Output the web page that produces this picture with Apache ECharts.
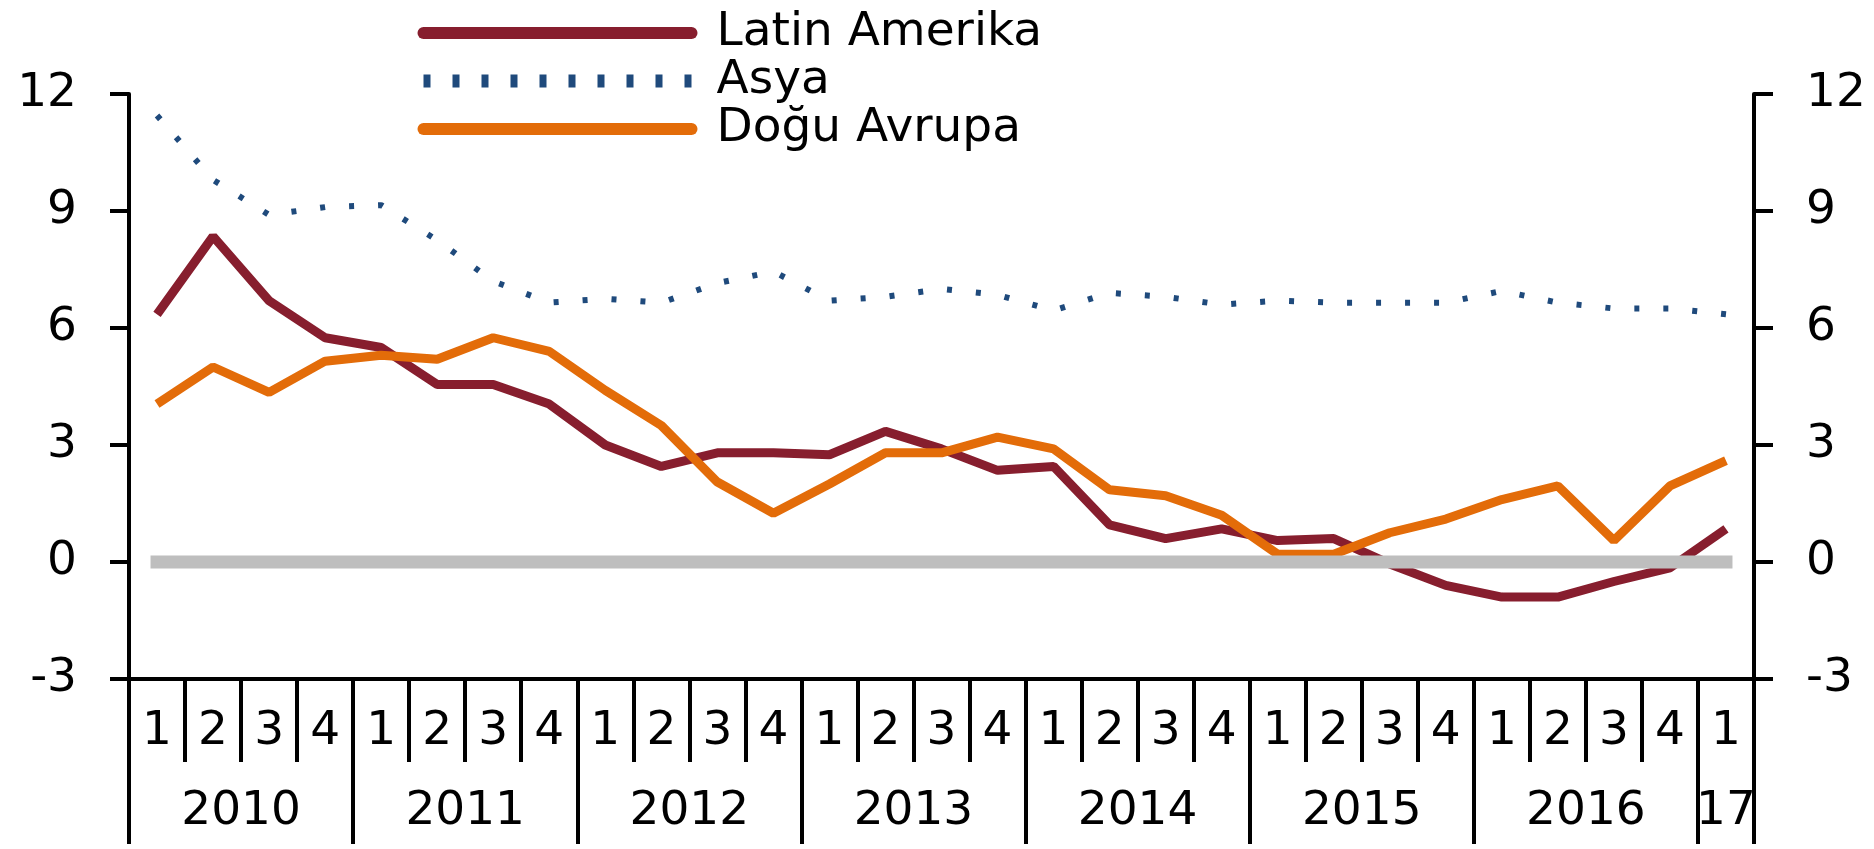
<!DOCTYPE html>
<html>
<head>
<meta charset="utf-8">
<script src="https://cdn.jsdelivr.net/npm/echarts@6/dist/echarts.min.js"></script>
<style>
  html, body { margin: 0; padding: 0; background: #fff; }
  #main { width: 1874px; height: 849px; }
</style>
</head>
<body>
<div id="main"></div>
<script>
// quarters 2010Q1 .. 2017Q1
const quarters = ['1','2','3','4','1','2','3','4','1','2','3','4','1','2','3','4',
                  '1','2','3','4','1','2','3','4','1','2','3','4','1'];
const years = ['2010', '2011', '2012', '2013', '2014', '2015', '2016', '17'];

const latinAmerika = [6.35, 8.35, 6.7, 5.75, 5.5, 4.55, 4.55, 4.05, 3.0, 2.45,
                      2.8, 2.8, 2.75, 3.35, 2.9, 2.35, 2.45, 0.95, 0.6, 0.85,
                      0.55, 0.6, -0.05, -0.6, -0.9, -0.9, -0.5, -0.15, 0.85];
const asya = [11.45, 9.8, 8.9, 9.1, 9.15, 8.25, 7.2, 6.65, 6.75, 6.65,
              7.15, 7.45, 6.7, 6.8, 7.0, 6.85, 6.45, 6.9, 6.8, 6.6,
              6.7, 6.65, 6.65, 6.65, 6.95, 6.65, 6.5, 6.5, 6.35];
const doguAvrupa = [4.05, 5.0, 4.35, 5.15, 5.3, 5.2, 5.75, 5.4, 4.4, 3.5,
                    2.05, 1.25, 2.0, 2.8, 2.8, 3.2, 2.9, 1.85, 1.7, 1.2,
                    0.2, 0.2, 0.75, 1.1, 1.6, 1.95, 0.55, 1.95, 2.6];
const zeroLine = [0, 0, 0, 0, 0, 0, 0, 0, 0, 0, 0, 0, 0, 0, 0, 0, 0, 0, 0, 0,
                  0, 0, 0, 0, 0, 0, 0, 0, 0];

const FONT = 'DejaVu Sans';
const FS = 47;
const RED = '#871e2e';
const BLUE = '#1f4a7c';
const ORANGE = '#e36c09';

const chart = echarts.init(document.getElementById('main'));

const yAxisBase = {
    type: 'value',
    min: -3,
    max: 12,
    interval: 3,
    splitLine: { show: false },
    axisLine: { show: true, lineStyle: { color: '#000', width: 4 } },
    axisTick: { show: true, length: 19, lineStyle: { color: '#000', width: 4 } },
    axisLabel: { fontSize: FS, fontFamily: FONT, color: '#000', margin: 52 }
};

const option = {
    animation: false,
    backgroundColor: '#fff',
    grid: { left: 129, right: 120, top: 94, bottom: 170 },
    legend: {
        orient: 'vertical',
        left: 417,
        top: 9,
        padding: 0,
        itemGap: 0,
        itemWidth: 268,
        itemHeight: 20,
        selectedMode: false,
        itemStyle: { opacity: 0 },
        textStyle: { fontSize: FS, fontFamily: FONT, color: '#000', lineHeight: 48, padding: [0, 0, 0, 20] },
        data: [
            { name: 'Latin Amerika', lineStyle: { width: 12, cap: 'round' } },
            { name: 'Asya', lineStyle: { width: 13, type: [7, 22] } },
            { name: 'Doğu Avrupa', lineStyle: { width: 12, cap: 'round' } }
        ]
    },
    xAxis: [
        {
            type: 'category',
            data: quarters,
            position: 'bottom',
            boundaryGap: true,
            axisLine: { show: true, onZero: false, lineStyle: { color: '#000', width: 4 } },
            axisTick: { show: true, interval: 0, length: 83, lineStyle: { color: '#000', width: 4 } },
            axisLabel: { interval: 0, margin: 30, fontSize: FS, lineHeight: 45, fontFamily: FONT, color: '#000' }
        },
        {
            type: 'category',
            data: quarters,
            position: 'bottom',
            boundaryGap: true,
            axisLine: { show: false, onZero: false },
            axisTick: {
                show: true,
                interval: function (i) { return i % 4 === 0; },
                length: 165,
                lineStyle: { color: '#000', width: 4 }
            },
            axisLabel: {
                interval: function (i) { return i % 4 === 1 || i === 28; },
                margin: 110,
                formatter: function (v, i) {
                    return i === 28 ? '{b|' + years[7] + '}' : '{a|' + years[Math.floor(i / 4)] + '}';
                },
                rich: {
                    a: { fontSize: FS, lineHeight: 45, fontFamily: FONT, color: '#000', padding: [0, 0, 0, 56] },
                    b: { fontSize: FS, lineHeight: 45, fontFamily: FONT, color: '#000' }
                }
            }
        }
    ],
    yAxis: [
        Object.assign({}, yAxisBase, { position: 'left' }),
        Object.assign({}, yAxisBase, { position: 'right' })
    ],
    series: [
        {
            name: 'Latin Amerika',
            type: 'line',
            data: latinAmerika,
            symbol: 'none',
            lineStyle: { color: RED, width: 9 },
            itemStyle: { color: RED }
        },
        {
            name: 'Asya',
            type: 'line',
            data: asya,
            symbol: 'none',
            lineStyle: { color: BLUE, width: 6, type: [5, 24] },
            itemStyle: { color: BLUE }
        },
        {
            name: 'Doğu Avrupa',
            type: 'line',
            data: doguAvrupa,
            symbol: 'none',
            lineStyle: { color: ORANGE, width: 9 },
            itemStyle: { color: ORANGE }
        },
        {
            name: 'zero',
            type: 'line',
            data: zeroLine,
            symbol: 'none',
            silent: true,
            lineStyle: { color: '#bebebe', width: 13, cap: 'square' },
            itemStyle: { color: '#bebebe' }
        }
    ]
};

chart.setOption(option);
</script>
</body>
</html>
